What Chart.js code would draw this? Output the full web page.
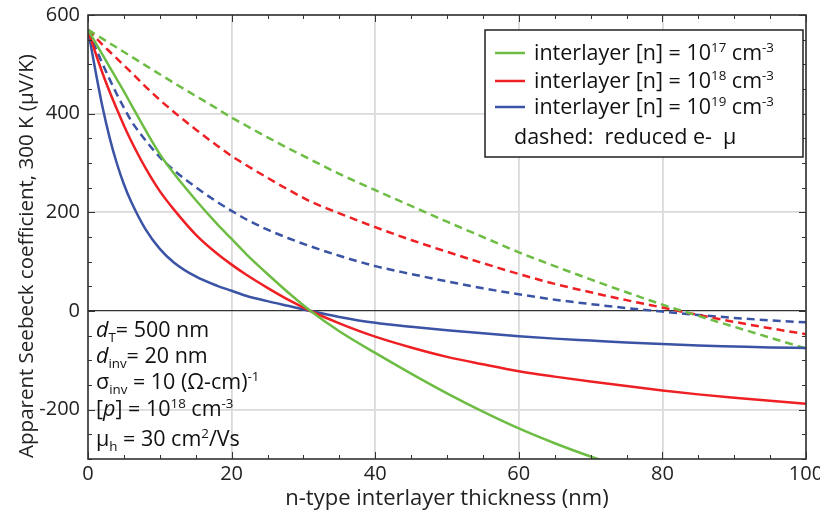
<!DOCTYPE html>
<html>
<head>
<meta charset="utf-8">
<script src="https://cdn.jsdelivr.net/npm/chart.js@4.4.1/dist/chart.umd.min.js"></script>
<style>
  body { margin: 0; background: #fff; }
</style>
</head>
<body>
<canvas id="seebeck-chart" width="820" height="512"></canvas>
<script>
// interlayer thickness (nm)
const thickness = [0, 1, 2, 3, 4, 5, 6, 8, 10, 12, 15, 18, 20, 22, 25, 28, 31, 35, 40, 45, 50, 55, 60, 65, 70, 75, 80, 85, 90, 95, 100];

// apparent Seebeck coefficient (uV/K), solid = nominal mobility
const n17 = [570, 545, 520, 495, 470, 445, 419, 367, 318, 278, 225, 176, 146, 116, 75, 36, 0, -41, -85, -127, -167, -204, -238, -268, -295, -320, null, null, null, null, null];
const n18 = [570, 525, 483, 445, 410, 376, 345, 290, 243, 205, 155, 116, 94, 74, 47, 22, 0, -25, -52, -74, -93, -108, -122, -133, -143, -152, -161, -169, -176, -182, -188];
const n19 = [570, 490, 415, 352, 300, 257, 222, 166, 126, 98, 70, 51, 41, 31, 20, 10, 0, -12, -24, -32, -39, -45, -51, -56, -60, -64, -67, -70, -72, -74, -75];

// dashed = reduced electron mobility
const n17Reduced = [570, 561, 552, 543, 534, 525, 516, 498, 480, 462, 436, 410, 392, 376, 352, 329, 307, 278, 245, 213, 181, 150, 119, 91, 64, 38, 13, -10, -32, -54, -76];
const n18Reduced = [570, 555, 540, 526, 512, 498, 484, 455, 428, 403, 368, 335, 314, 296, 270, 245, 222, 198, 170, 144, 120, 97, 75, 55, 38, 22, 7, -8, -22, -35, -47];
const n19Reduced = [570, 535, 502, 470, 440, 412, 386, 346, 312, 285, 251, 221, 203, 186, 165, 147, 131, 112, 91, 75, 60, 46, 34, 23, 14, 6, -1, -8, -14, -19, -23];

const xTicks = [0, 20, 40, 60, 80, 100];
const yTicks = [-200, 0, 200, 400, 600];

const legendExps = ['17', '18', '19'];
const notes = [
  [{t: 'd', it: true}, {t: 'T', sub: true}, {t: '= 500 nm'}],
  [{t: 'd', it: true}, {t: 'inv', sub: true}, {t: '= 20 nm'}],
  [{t: 'σ'}, {t: 'inv', sub: true}, {t: ' = 10 (Ω-cm)'}, {t: '-1', sup: true}],
  [{t: '['}, {t: 'p', it: true}, {t: '] = 10'}, {t: '18', sup: true}, {t: ' cm'}, {t: '-3', sup: true}],
  [{t: 'μ'}, {t: 'h', sub: true}, {t: ' = 30 cm'}, {t: '2', sup: true}, {t: '/Vs'}]
];
const yTitle = 'Apparent Seebeck coefficient, 300 K (μV/K)';

const GREEN = '#6dbd45';
const RED = '#ee2024';
const BLUE = '#3a53a4';
const FONT = "'Open Sans', sans-serif";

function series(label, values, color, dashed) {
  return {
    label: label,
    data: thickness.map((x, i) => ({x: x, y: values[i]})),
    borderColor: color,
    borderWidth: 2.5,
    borderDash: dashed ? [8, 5] : [],
    pointRadius: 0,
    fill: false,
    cubicInterpolationMode: 'monotone'
  };
}

function drawRich(ctx, parts, x, y, size) {
  parts.forEach(p => {
    let fs = size, dy = 0;
    if (p.sup) { fs = size * 0.62; dy = -size * 0.36; }
    if (p.sub) { fs = size * 0.62; dy = size * 0.24; }
    ctx.font = (p.it ? 'italic ' : '') + fs + 'px ' + FONT;
    ctx.fillText(p.t, x, y + dy);
    x += ctx.measureText(p.t).width;
  });
}

// frame, inward ticks, y title, legend box and parameter notes
const decorations = {
  id: 'decorations',
  afterDraw(chart) {
    const ctx = chart.ctx;
    const a = chart.chartArea;
    const xs = chart.scales.x, ys = chart.scales.y;
    ctx.save();
    ctx.strokeStyle = '#333';
    ctx.lineWidth = 1;
    ctx.beginPath();
    for (let v = 0; v <= 100; v += 5) {
      const px = Math.round(xs.getPixelForValue(v)) + 0.5;
      const len = v % 20 === 0 ? 7 : 4;
      ctx.moveTo(px, a.bottom); ctx.lineTo(px, a.bottom - len);
      ctx.moveTo(px, a.top); ctx.lineTo(px, a.top + len);
    }
    for (let v = -300; v <= 600; v += 50) {
      const py = Math.round(ys.getPixelForValue(v)) + 0.5;
      const len = v % 200 === 0 ? 7 : 4;
      ctx.moveTo(a.left, py); ctx.lineTo(a.left + len, py);
      ctx.moveTo(a.right, py); ctx.lineTo(a.right - len, py);
    }
    ctx.stroke();
    ctx.lineWidth = 1.6;
    ctx.strokeRect(a.left, a.top, a.right - a.left, a.bottom - a.top);

    // y axis title
    ctx.save();
    ctx.translate(27, 256);
    ctx.rotate(-Math.PI / 2);
    ctx.font = '20.5px ' + FONT;
    ctx.fillStyle = '#222';
    ctx.textAlign = 'center';
    ctx.textBaseline = 'middle';
    ctx.fillText(yTitle, 0, 0);
    ctx.restore();

    // legend
    const lx = 485, ly = 30, lw = 318, lh = 127;
    ctx.fillStyle = '#fff';
    ctx.fillRect(lx, ly, lw, lh);
    ctx.strokeStyle = '#111';
    ctx.lineWidth = 1.4;
    ctx.strokeRect(lx, ly, lw, lh);
    const colors = [GREEN, RED, BLUE];
    const rows = [53, 81, 107];
    ctx.textBaseline = 'alphabetic';
    colors.forEach((c, i) => {
      ctx.strokeStyle = c;
      ctx.lineWidth = 2.5;
      ctx.beginPath();
      ctx.moveTo(495, rows[i]); ctx.lineTo(525, rows[i]);
      ctx.stroke();
      ctx.fillStyle = '#111';
      drawRich(ctx, [{t: 'interlayer [n] = 10'}, {t: legendExps[i], sup: true}, {t: ' cm'}, {t: '-3', sup: true}], 534, rows[i] + 7, 21.5);
    });
    ctx.fillStyle = '#111';
    drawRich(ctx, [{t: 'dashed:  reduced e-  μ'}], 514, 144, 21.5);

    // parameter notes
    const base = [337, 363, 389, 416, 446];
    notes.forEach((line, i) => drawRich(ctx, line, 96, base[i], 21.5));
    ctx.restore();
  }
};

new Chart(document.getElementById('seebeck-chart'), {
  type: 'line',
  data: {
    datasets: [
      series('interlayer [n] = 1e17 cm-3', n17, GREEN, false),
      series('interlayer [n] = 1e18 cm-3', n18, RED, false),
      series('interlayer [n] = 1e19 cm-3', n19, BLUE, false),
      series('1e17 reduced e- mobility', n17Reduced, GREEN, true),
      series('1e18 reduced e- mobility', n18Reduced, RED, true),
      series('1e19 reduced e- mobility', n19Reduced, BLUE, true)
    ]
  },
  options: {
    responsive: false,
    animation: false,
    layout: { padding: { left: 0, right: 14, top: 15, bottom: 0 } },
    plugins: { legend: { display: false }, tooltip: { enabled: false } },
    scales: {
      x: {
        type: 'linear',
        min: 0,
        max: 100,
        afterBuildTicks: s => { s.ticks = xTicks.map(v => ({value: v})); },
        afterFit: s => { s.height = 53; s.paddingLeft = 0; s.paddingRight = 0; },
        ticks: { font: { family: FONT, size: 20 }, color: '#222', padding: 3, maxRotation: 0 },
        grid: { color: '#dadada', lineWidth: 1.8, drawTicks: false },
        border: { display: false },
        title: { display: true, text: 'n-type interlayer thickness (nm)', font: { family: FONT, size: 22 }, color: '#222', padding: { top: 0, bottom: 0 } }
      },
      y: {
        min: -300,
        max: 600,
        afterBuildTicks: s => { s.ticks = yTicks.map(v => ({value: v})); },
        afterFit: s => { s.width = 88; s.paddingTop = 0; s.paddingBottom = 0; },
        ticks: { font: { family: FONT, size: 20 }, color: '#222', padding: 8 },
        grid: {
          color: c => c.tick.value === 0 ? '#333' : '#dadada',
          lineWidth: c => c.tick.value === 0 ? 1.2 : 1.8,
          drawTicks: false
        },
        border: { display: false }
      }
    }
  },
  plugins: [decorations]
});
</script>
</body>
</html>
